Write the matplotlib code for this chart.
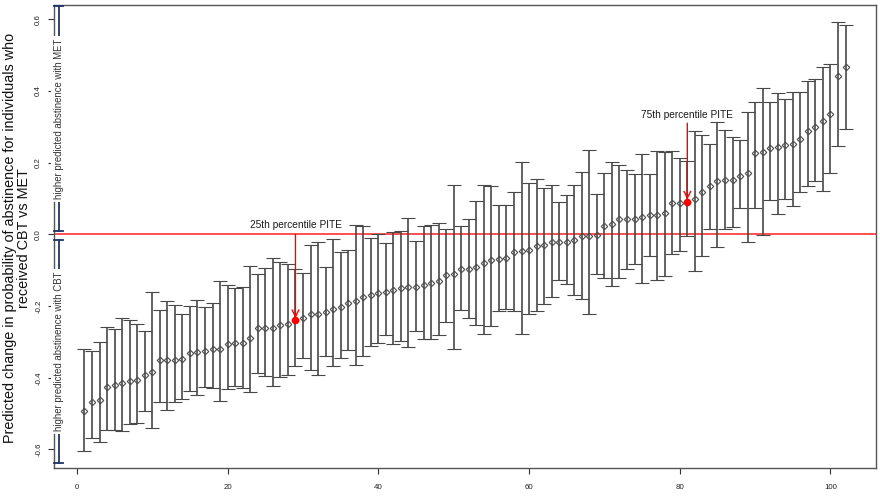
import matplotlib
matplotlib.use("Agg")
import matplotlib.pyplot as plt
import matplotlib.transforms as mtransforms
import numpy as np

plt.rcParams['font.family'] = ['Liberation Sans', 'DejaVu Sans']
plt.rcParams['axes.unicode_minus'] = False

# predicted individual treatment effect (PITE), sorted, with interval bounds
pite = [
    -0.494, -0.467, -0.462, -0.425, -0.420, -0.416, -0.409, -0.407, -0.392, -0.385,
    -0.351, -0.351, -0.351, -0.349, -0.331, -0.327, -0.325, -0.320, -0.320, -0.305,
    -0.303, -0.303, -0.288, -0.262, -0.262, -0.260, -0.252, -0.251, -0.240, -0.233,
    -0.223, -0.223, -0.218, -0.207, -0.202, -0.192, -0.187, -0.175, -0.170, -0.163,
    -0.160, -0.154, -0.149, -0.146, -0.146, -0.140, -0.136, -0.131, -0.113, -0.110,
    -0.097, -0.097, -0.091, -0.081, -0.072, -0.070, -0.066, -0.048, -0.046, -0.043,
    -0.033, -0.029, -0.020, -0.020, -0.020, -0.017, -0.006, -0.005, -0.003, 0.024,
    0.028, 0.042, 0.042, 0.042, 0.048, 0.054, 0.054, 0.059, 0.088, 0.088,
    0.091, 0.099, 0.119, 0.135, 0.149, 0.152, 0.152, 0.164, 0.172, 0.227,
    0.229, 0.241, 0.243, 0.249, 0.253, 0.266, 0.287, 0.299, 0.317, 0.337,
    0.442, 0.466]
upper = [
    -0.320, -0.325, -0.300, -0.258, -0.265, -0.232, -0.240, -0.251, -0.269, -0.162,
    -0.210, -0.186, -0.197, -0.221, -0.201, -0.184, -0.204, -0.191, -0.130, -0.142,
    -0.150, -0.147, -0.089, -0.110, -0.094, -0.065, -0.077, -0.084, -0.098, -0.109,
    -0.030, -0.021, -0.092, -0.014, -0.048, -0.044, 0.026, 0.022, -0.010, 0.002,
    -0.024, 0.007, 0.008, 0.046, -0.019, 0.024, 0.026, 0.031, 0.014, 0.137,
    0.022, 0.042, 0.093, 0.139, 0.136, 0.081, 0.082, 0.117, 0.201, 0.143,
    0.154, 0.129, 0.137, 0.090, 0.110, 0.139, 0.174, 0.236, 0.112, 0.171,
    0.202, 0.194, 0.180, 0.169, 0.224, 0.169, 0.232, 0.230, 0.232, 0.214,
    0.204, 0.288, 0.277, 0.251, 0.314, 0.290, 0.271, 0.264, 0.342, 0.369,
    0.407, 0.369, 0.394, 0.378, 0.396, 0.396, 0.427, 0.434, 0.468, 0.475,
    0.592, 0.585]
lower = [
    -0.604, -0.569, -0.580, -0.545, -0.545, -0.548, -0.529, -0.526, -0.492, -0.539,
    -0.467, -0.489, -0.469, -0.460, -0.436, -0.448, -0.427, -0.430, -0.464, -0.432,
    -0.424, -0.430, -0.439, -0.388, -0.394, -0.423, -0.397, -0.391, -0.368, -0.344,
    -0.379, -0.392, -0.338, -0.368, -0.345, -0.323, -0.364, -0.340, -0.312, -0.303,
    -0.280, -0.307, -0.298, -0.314, -0.271, -0.293, -0.293, -0.282, -0.244, -0.319,
    -0.212, -0.232, -0.253, -0.279, -0.257, -0.215, -0.207, -0.214, -0.278, -0.221,
    -0.214, -0.193, -0.176, -0.127, -0.138, -0.169, -0.181, -0.223, -0.110, -0.122,
    -0.144, -0.122, -0.096, -0.083, -0.135, -0.060, -0.128, -0.116, -0.056, -0.046,
    -0.005, -0.102, -0.060, 0.016, -0.036, 0.014, 0.021, 0.074, -0.021, 0.074,
    -0.002, 0.095, 0.056, 0.098, 0.078, 0.117, 0.134, 0.150, 0.121, 0.170,
    0.246, 0.293]

# individuals highlighted as 25th / 75th percentile
pct_idx = [29, 81]
pct_labels = ['25th percentile PITE', '75th percentile PITE']
pct_text_y = [0.012, 0.318]

pite = np.array(pite)
upper = np.array(upper)
lower = np.array(lower)
x = np.arange(1, len(pite) + 1)

fig = plt.figure(figsize=(8.8, 4.97), dpi=100)
ax = fig.add_axes([54 / 880, 29 / 497, 822 / 880, 463 / 497])

ax.errorbar(x, pite, yerr=[pite - lower, upper - pite], fmt='D', ms=3.3,
            mfc='none', mec='#4a4a4a', mew=0.8, ecolor='#484848',
            elinewidth=1.2, capsize=5, capthick=1.2, zorder=3)

# R-like 4% padding around the data
xpad = 0.04 * (x.max() - x.min())
lo, hi = lower.min(), upper.max()
ypad = 0.04 * (hi - lo)
ax.set_xlim(x.min() - xpad, x.max() + xpad)
ax.set_ylim(lo - ypad, hi + ypad)

ax.axhline(0, color='#ff2020', lw=1.1, zorder=2)

# percentile annotations
for i, lab, ty in zip(pct_idx, pct_labels, pct_text_y):
    yv = pite[i - 1]
    ax.plot(i, yv, 'o', color='red', ms=4.5, zorder=5)
    ax.text(i, ty, lab, ha='center', va='bottom', fontsize=7.3, color='#1a1a1a')
    start = 0.0 if ty < 0.1 else ty - 0.008
    ax.annotate('', xy=(i, yv + 0.006), xytext=(i, start),
                arrowprops=dict(arrowstyle='->', color='red', lw=1.0,
                                mutation_scale=12, shrinkA=0, shrinkB=0),
                zorder=4)

ax.set_xticks([0, 20, 40, 60, 80, 100])
ax.set_yticks([-0.6, -0.4, -0.2, 0.0, 0.2, 0.4, 0.6])
ax.set_yticklabels(['-0.6', '-0.4', '-0.2', '0.0', '0.2', '0.4', '0.6'],
                   rotation=90, va='center')
ax.tick_params(axis='both', labelsize=5.7, length=4.5, width=0.8,
               color='#333333', labelcolor='#222222')
ax.tick_params(axis='y', pad=4)
ax.tick_params(axis='x', pad=7)
for sp in ax.spines.values():
    sp.set_color('#555555')
    sp.set_linewidth(1.0)

# side brackets inside the left edge
trans = mtransforms.blended_transform_factory(ax.transAxes, ax.transData)
bx = 0.0055
ylo, yhi = ax.get_ylim()
brackets = [(0.008, yhi - 0.004, 'higher predicted abstinence with MET'),
            (ylo + 0.013, -0.015, 'higher predicted abstinence with CBT')]
for b0, b1, lab in brackets:
    ax.plot([bx, bx], [b0, b1], color='#1f3566', lw=1.3, transform=trans,
            clip_on=False, zorder=6)
    for yy in (b0, b1):
        ax.plot([bx - 0.005, bx + 0.005], [yy, yy], color='#1f3566', lw=1.3,
                transform=trans, clip_on=False, zorder=6)
    ax.text(bx, (b0 + b1) / 2, lab, rotation=90, ha='center', va='center',
            fontsize=6.9, color='#333333', transform=trans, zorder=7,
            bbox=dict(boxstyle='square,pad=0.25', fc='white', ec='none'))

fig.text(17 / 880, 1 - 238 / 497,
         'Predicted change in probability of abstinence for individuals who\nreceived CBT vs MET',
         rotation=90, ha='center', va='center', multialignment='center',
         fontsize=10.4, color='#111111', linespacing=0.95)

fig.savefig('out.png', dpi=100)
